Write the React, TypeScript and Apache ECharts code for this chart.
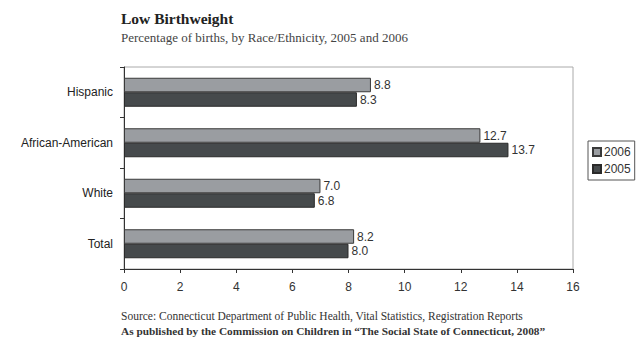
import React, { useEffect, useRef } from "react";
import * as echarts from "echarts";

const categories = ["Hispanic", "African-American", "White", "Total"];
const values2006 = [8.8, 12.7, 7.0, 8.2];
const values2005 = [8.3, 13.7, 6.8, 8.0];
const xTicks = [0, 2, 4, 6, 8, 10, 12, 14, 16];

const titleText = "Low Birthweight";
const subtitleText = "Percentage of births, by Race/Ethnicity, 2005 and 2006";
const sourceText = "Source: Connecticut Department of Public Health, Vital Statistics, Registration Reports";
const creditText = "As published by the Commission on Children in \u201CThe Social State of Connecticut, 2008\u201D";

const SANS = "'Liberation Sans', Arial, sans-serif";
const SERIF = "'Liberation Serif', 'Times New Roman', serif";

export default function App() {
  const ref = useRef<HTMLDivElement>(null);

  useEffect(() => {
    if (!ref.current) return;
    const chart = echarts.init(ref.current, null, { renderer: "svg" });
    const label = {
      show: true,
      position: "right" as const,
      distance: 3,
      color: "#333",
      fontFamily: SANS,
      fontSize: 12,
      formatter: (p: any) => Number(p.value).toFixed(1),
    };
    const txt = (text: string, x: number, y: number, size: number, weight: string, color: string) => ({
      type: "text",
      left: x,
      top: y,
      style: { text, fontFamily: SERIF, fontSize: size, fontWeight: weight, fill: color },
    });
    chart.setOption({
      animation: false,
      backgroundColor: "#fff",
      textStyle: { fontFamily: SANS },
      graphic: [
        txt(titleText, 121, 10, 15.5, "bold", "#222"),
        txt(subtitleText, 121, 31, 13, "normal", "#444"),
        txt(sourceText, 121, 310, 11.5, "normal", "#333"),
        txt(creditText, 121, 325, 11.3, "bold", "#333"),
      ],
      legend: {
        orient: "vertical",
        left: 588,
        top: 141,
        data: ["2006", "2005"],
        icon: "rect",
        itemWidth: 8,
        itemHeight: 8,
        itemGap: 5,
        padding: [5, 4, 5, 4],
        borderColor: "#555",
        borderWidth: 1,
        textStyle: { fontFamily: SANS, fontSize: 12, color: "#333", padding: [0, 0, 0, -2] },
      },
      grid: { left: 124, right: 66, top: 67, bottom: 70, show: true, borderColor: "#aaa", borderWidth: 1 },
      xAxis: {
        type: "value",
        min: xTicks[0],
        max: xTicks[xTicks.length - 1],
        interval: 2,
        axisLine: { show: true, lineStyle: { color: "#333" } },
        axisTick: { show: true, length: 4, lineStyle: { color: "#333" } },
        splitLine: { show: false },
        axisLabel: { color: "#333", fontSize: 12, margin: 12 },
      },
      yAxis: {
        type: "category",
        data: categories,
        inverse: true,
        axisLine: { show: true, lineStyle: { color: "#333" } },
        axisTick: { show: true, length: 4, lineStyle: { color: "#333" } },
        axisLabel: { color: "#222", fontSize: 12, margin: 11 },
      },
      series: [
        {
          name: "2006",
          type: "bar",
          data: values2006,
          barWidth: 14.5,
          barGap: "0%",
          itemStyle: { color: "#9a9da1", borderColor: "#3a3a3a", borderWidth: 1 },
          label,
        },
        {
          name: "2005",
          type: "bar",
          data: values2005,
          barWidth: 14.5,
          barGap: "0%",
          itemStyle: { color: "#464a4c", borderColor: "#2a2a2a", borderWidth: 1 },
          label,
        },
      ],
    });
    return () => chart.dispose();
  }, []);

  return (
    <div
      ref={ref}
      style={{ position: "fixed", left: 0, top: 0, width: 639, height: 339, margin: 0 }}
    />
  );
}
